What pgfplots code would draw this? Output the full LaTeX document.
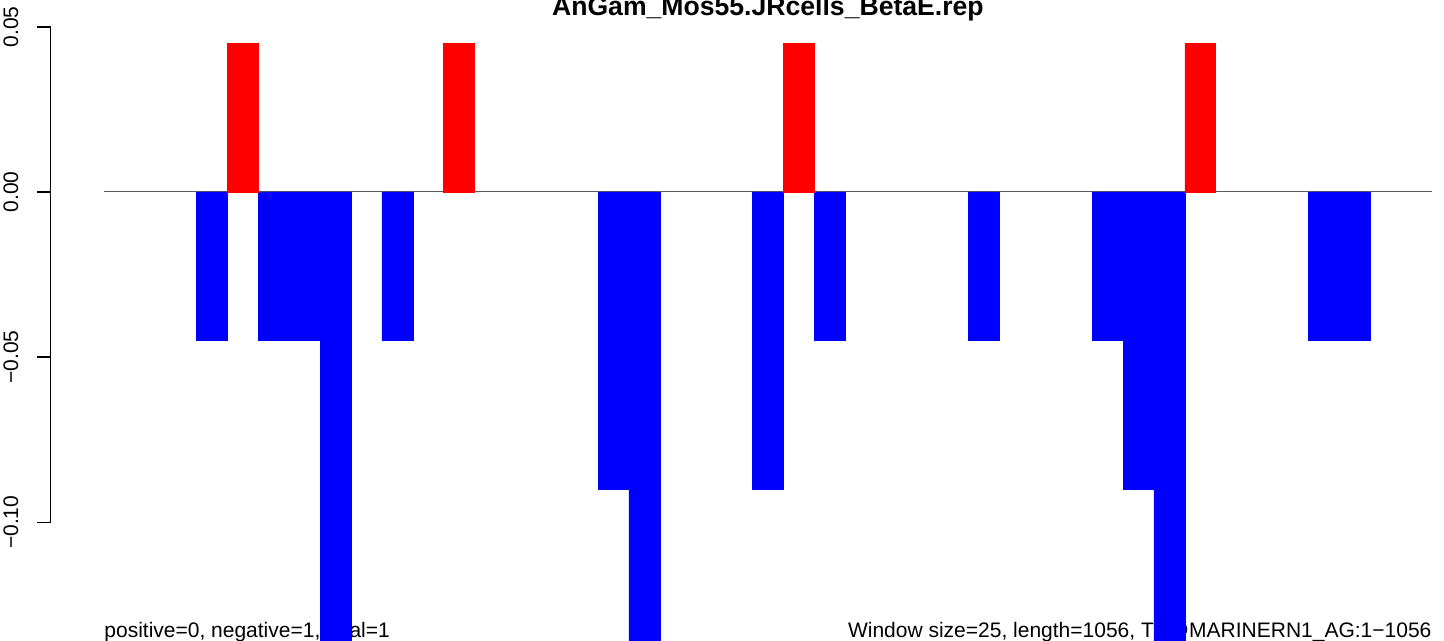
\documentclass[border=0pt]{standalone}
\usepackage{pgfplots}
\pgfplotsset{compat=1.18}
\usepackage{fontspec}
\setmainfont{Liberation Sans}
\begin{document}
\begin{tikzpicture}
\begin{axis}[
  scale only axis, width=696.75pt, height=320.5pt,
  xmin=-1.7325, xmax=43.394, ymin=-0.13594, ymax=0.05813,
  axis x line=none, axis y line=left,
  y axis line style={draw=none},
  ytick={-0.1,-0.05,0,0.05},
  yticklabels={−0.10,−0.05,0.00,0.05},
  tick align=outside, major tick length=6.67pt,
  ytick style={black, line width=0.75pt},
  yticklabel style={font=\fontsize{10.5}{12}\selectfont, xshift=-9.25pt, rotate=90, anchor=south, inner sep=0pt},
  clip=false,
]
\node[anchor=base, font=\fontsize{13.3}{15}\selectfont\bfseries] at (axis cs:21.5,0.0533) {AnGam\_Mos55.JRcells\_BetaE.rep};
\node[anchor=base west, inner sep=0pt, font=\fontsize{10.5}{12}\selectfont] at (axis cs:0,-0.135) {positive=0, negative=1, total=1};
\node[anchor=base east, inner sep=0pt, font=\fontsize{10.5}{12}\selectfont] at (axis cs:43,-0.135) {Window size=25, length=1056, TE@MARINERN1\_AG:1−1056};
\draw[black, line width=0.75pt] (axis cs:-1.7325,-0.1) -- (axis cs:-1.7325,0.05);
\addplot[black!65, line width=0.5pt] coordinates {(0,0) (43,0)};
\addplot[ybar, bar width=1, bar shift=0pt, fill=blue, draw=blue, line width=0.2pt] coordinates {
(3.5,-0.045) (5.5,-0.045) (6.5,-0.045) (7.5,-0.136) (9.5,-0.045)
(16.5,-0.09) (17.5,-0.136) (21.5,-0.09) (23.5,-0.045) (28.5,-0.045)
(32.5,-0.045) (33.5,-0.09) (34.5,-0.136) (39.5,-0.045) (40.5,-0.045)};
\addplot[ybar, bar width=1, bar shift=0pt, fill=red, draw=red, line width=0.2pt] coordinates {
(4.5,0.045) (11.5,0.045) (22.5,0.045) (35.5,0.045)};
\end{axis}
\pgfresetboundingbox
\path (current axis.south west) ++(-25.25pt,0pt) rectangle (current axis.north east);
\end{tikzpicture}
\end{document}
